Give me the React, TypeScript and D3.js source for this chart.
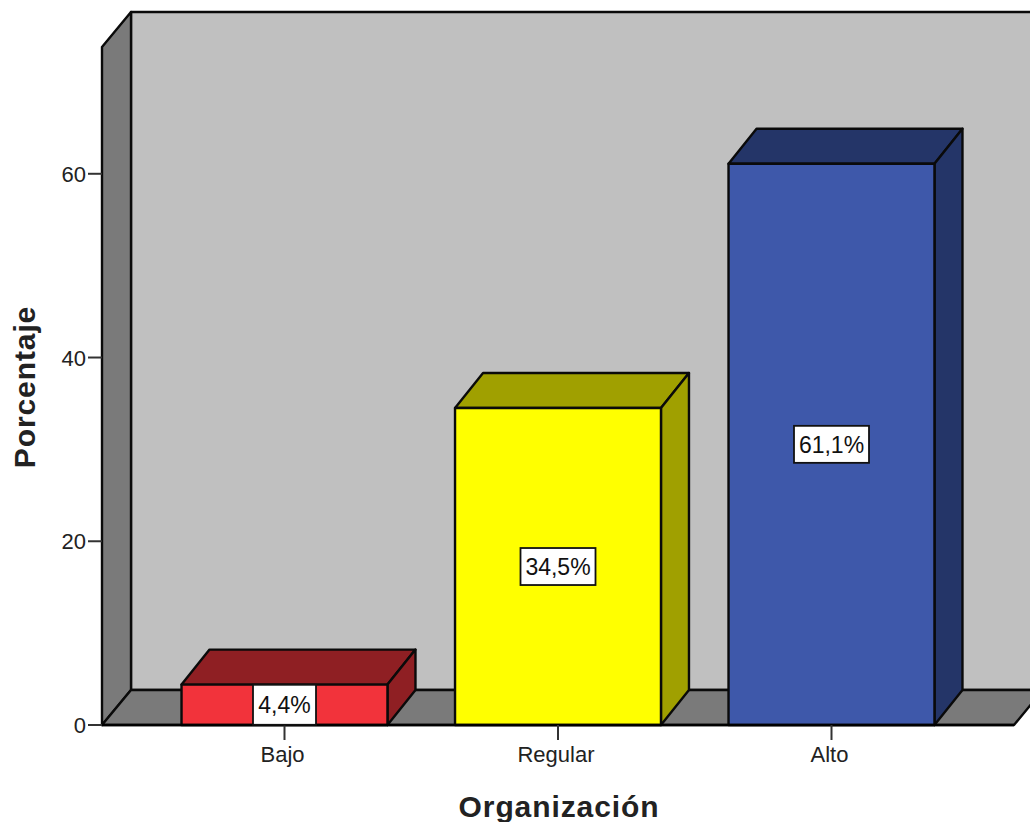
import * as d3 from "d3";

const categories = ["Bajo", "Regular", "Alto"];
const percentages = [4.4, 34.5, 61.1];
const valueLabels = ["4,4%", "34,5%", "61,1%"];
const yTicks = [0, 20, 40, 60];
const frontFaces = ["#f2333b", "#ffff00", "#3e58aa"];
const shadedFaces = ["#8f1f23", "#a0a000", "#243568"];

const xTitle = "Organización";
const yTitle = "Porcentaje";

const width = 1030;
const height = 822;
const yMax = 73.8;
const depthX = 29;
const depthY = -35;
const barDepthX = 28;

const y = d3.scaleLinear().domain([0, yMax]).range([725, 47]);
const x = d3
  .scaleBand<string>()
  .domain(categories)
  .range([147.75, 968.25])
  .paddingInner(0.247)
  .paddingOuter(0.1235);

const plotLeft = 102;
const plotRight = 1014;
const wallColor = "#c0c0c0";
const sideColor = "#7a7a7a";
const font = "'Liberation Sans', Arial, sans-serif";
const edge = 2.4;

type Pt = [number, number];

function poly(points: Pt[]) {
  return d3.line()(points) + "Z";
}

function Face({ points, fill }: { points: Pt[]; fill: string }) {
  return <path d={poly(points)} fill={fill} stroke="#0a0a0a" strokeWidth={edge} strokeLinejoin="round" />;
}

export default function App() {
  const y0 = y(0);
  const yTop = y(yMax);
  return (
    <svg
      width={width}
      height={height}
      viewBox={`0 0 ${width} ${height}`}
      style={{ position: "absolute", left: 0, top: 0, background: "#fff" }}
    >
      {/* Back wall, left wall and floor of the 3D box */}
      <Face
        points={[
          [plotLeft + depthX, yTop + depthY],
          [plotRight + depthX + 40, yTop + depthY],
          [plotRight + depthX + 40, y0 + depthY],
          [plotLeft + depthX, y0 + depthY],
        ]}
        fill={wallColor}
      />
      <Face
        points={[
          [plotLeft, yTop],
          [plotLeft + depthX, yTop + depthY],
          [plotLeft + depthX, y0 + depthY],
          [plotLeft, y0],
        ]}
        fill={sideColor}
      />
      <Face
        points={[
          [plotLeft, y0],
          [plotLeft + depthX, y0 + depthY],
          [plotRight + depthX, y0 + depthY],
          [plotRight, y0],
        ]}
        fill={sideColor}
      />

      {/* Y axis */}
      <line x1={88} x2={plotLeft} y1={y0} y2={y0} stroke="#000" strokeWidth={2} />
      {yTicks.map((t) => (
        <g key={t}>
          <line x1={88} x2={plotLeft} y1={y(t)} y2={y(t)} stroke="#333" strokeWidth={2} />
          <text x={86} y={y(t) + 8} textAnchor="end" fontFamily={font} fontSize={22} fill="#222">
            {t}
          </text>
        </g>
      ))}

      {/* Extruded bars */}
      {categories.map((c, i) => {
        const left = x(c)!;
        const right = left + x.bandwidth();
        const top = y(percentages[i]);
        return (
          <g key={c}>
            <Face
              points={[
                [left, top],
                [left + barDepthX, top + depthY],
                [right + barDepthX, top + depthY],
                [right, top],
              ]}
              fill={shadedFaces[i]}
            />
            <Face
              points={[
                [right, top],
                [right + barDepthX, top + depthY],
                [right + barDepthX, y0 + depthY],
                [right, y0],
              ]}
              fill={shadedFaces[i]}
            />
            <Face
              points={[
                [left, top],
                [right, top],
                [right, y0],
                [left, y0],
              ]}
              fill={frontFaces[i]}
            />
          </g>
        );
      })}

      {/* Baseline and category ticks */}
      <line x1={plotLeft} x2={plotRight} y1={y0} y2={y0} stroke="#000" strokeWidth={edge} />
      {categories.map((c) => {
        const cx = x(c)! + x.bandwidth() / 2;
        return (
          <g key={c}>
            <line x1={cx} x2={cx} y1={y0} y2={740} stroke="#333" strokeWidth={2} />
            <text x={cx - 2} y={762} textAnchor="middle" fontFamily={font} fontSize={22} fill="#222">
              {c}
            </text>
          </g>
        );
      })}

      {/* Value labels centred on each bar */}
      {categories.map((c, i) => {
        const cx = x(c)! + x.bandwidth() / 2;
        const cy = y(percentages[i] / 2);
        const boxW = valueLabels[i].length * 12 + 15;
        const boxH = i === 0 ? 40 : 37;
        return (
          <g key={c}>
            <rect
              x={cx - boxW / 2}
              y={cy - boxH / 2}
              width={boxW}
              height={boxH}
              fill="#fff"
              stroke="#111"
              strokeWidth={1.8}
            />
            <text x={cx} y={cy + 8.5} textAnchor="middle" fontFamily={font} fontSize={23} fill="#111">
              {valueLabels[i]}
            </text>
          </g>
        );
      })}

      {/* Axis titles */}
      <text
        x={559}
        y={817}
        textAnchor="middle"
        fontFamily={font}
        fontSize={30}
        fontWeight="bold"
        letterSpacing={0.9}
        fill="#222"
      >
        {xTitle}
      </text>
      <text
        transform="translate(35,387) rotate(-90)"
        textAnchor="middle"
        fontFamily={font}
        fontSize={30}
        fontWeight="bold"
        letterSpacing={0.9}
        fill="#222"
      >
        {yTitle}
      </text>
    </svg>
  );
}
